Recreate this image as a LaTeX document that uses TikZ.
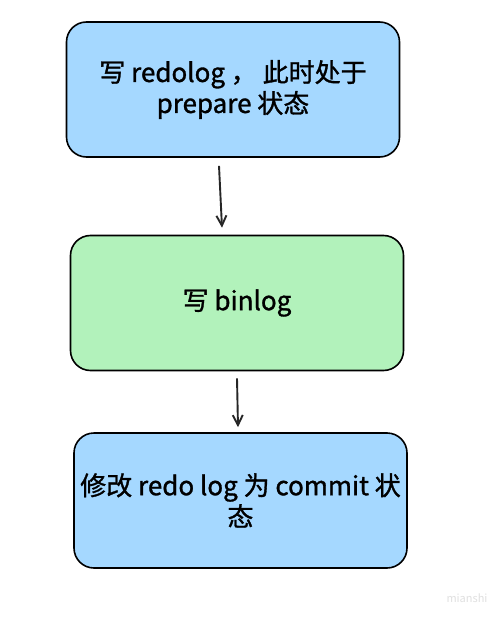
\documentclass[tikz,border=0pt]{standalone}
\usepackage{fontspec}
\setmainfont{Noto Sans CJK SC}[FakeBold=1.2]
\newfontfamily\markfont{Noto Sans CJK SC}
\usetikzlibrary{arrows.meta}
\definecolor{boxblue}{HTML}{A5D8FF}
\definecolor{boxgreen}{HTML}{B2F2BB}
\tikzset{
    logbox/.style={draw=black, line width=1.6pt, rounded corners=20pt, align=center,
        minimum width=333pt, minimum height=135pt, font=\fontsize{26}{31}\selectfont},
    flow/.style={-{Straight Barb[length=10pt,width=10pt]}, line width=1.9pt, color=black!85}
}
\begin{document}
\begin{tikzpicture}[x=1pt, y=-1pt]
    \useasboundingbox[fill=white] (0,0) rectangle (490,620);
    % Boxes
    \node[logbox, fill=boxblue] (redo) at (233,89.5) {写 redolog ， 此时处于\\prepare 状态};
    \node[logbox, fill=boxgreen] (binlog) at (237,303) {写 binlog};
    \node[logbox, fill=boxblue] (commit) at (240.5,500.5) {修改 redo log 为 commit 状\\态};
    % Arrows
    \draw[flow] ([xshift=-14pt,yshift=-8pt]redo.south) -- ([xshift=-15pt,yshift=7pt]binlog.north);
    \draw[flow] ([yshift=-7pt]binlog.south) -- ([xshift=-2.5pt,yshift=5pt]commit.north);
    % Watermark
    \node[text=black!12, font=\markfont\fontsize{11}{13}\selectfont] (mark) at (467,598) {mianshi};
\end{tikzpicture}
\end{document}
